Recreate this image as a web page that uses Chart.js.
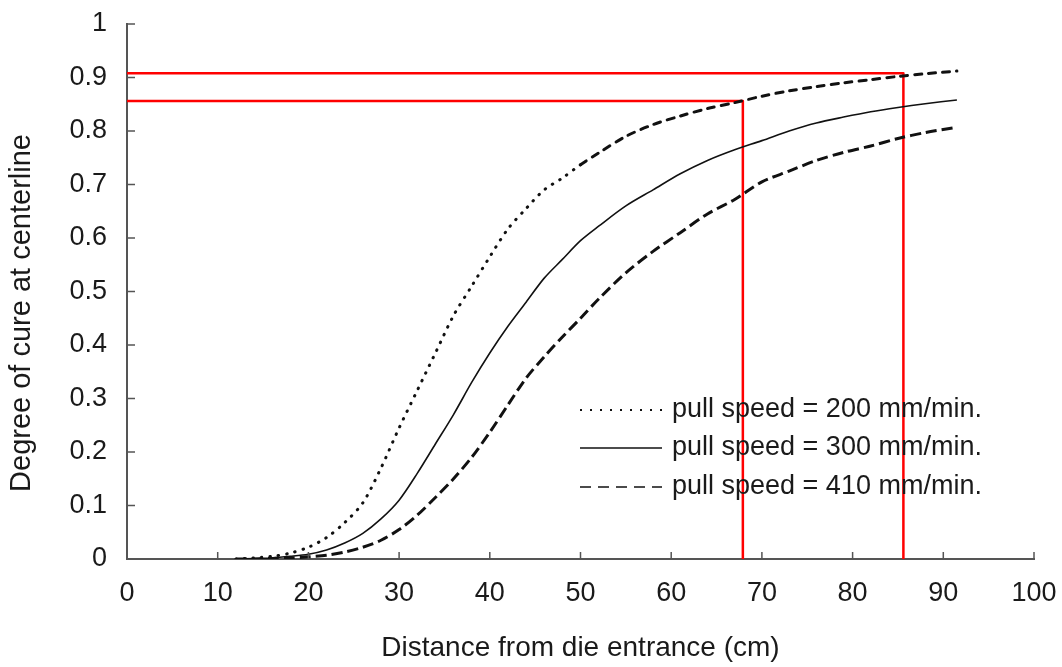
<!DOCTYPE html>
<html>
<head>
<meta charset="utf-8">
<script src="https://cdn.jsdelivr.net/npm/chart.js@4"></script>
<style>
  html, body { margin: 0; padding: 0; background: #fff; }
  #wrap { width: 1062px; height: 667px; }
</style>
</head>
<body>
<div id="wrap"><canvas id="myChart" width="1062" height="667"></canvas></div>
<script>
// distance from die entrance (cm)
const distance = [12, 14, 16, 18, 20, 22, 24, 26, 28, 30, 32, 34, 36, 38, 40, 42, 44, 46, 48, 50,
  52, 55, 58, 61, 64, 67, 70, 73, 76, 79, 82, 85, 88, 91.5]

// degree of cure at centerline
const cure200 = [0, 0.002, 0.005, 0.011, 0.022, 0.04, 0.068, 0.105, 0.17, 0.245, 0.315, 0.385, 0.455, 0.51, 0.565, 0.617, 0.655, 0.69, 0.712, 0.737,
  0.759, 0.79, 0.812, 0.828, 0.842, 0.853, 0.865, 0.875, 0.883, 0.89, 0.896, 0.902, 0.907, 0.912]
const cure300 = [0, 0.001, 0.002, 0.005, 0.009, 0.017, 0.03, 0.048, 0.075, 0.11, 0.16, 0.215, 0.27, 0.33, 0.385, 0.435, 0.48, 0.525, 0.56, 0.595,
  0.622, 0.66, 0.69, 0.72, 0.745, 0.765, 0.782, 0.8, 0.815, 0.826, 0.836, 0.844, 0.851, 0.858]
const cure410 = [0, 0, 0.001, 0.002, 0.004, 0.007, 0.013, 0.022, 0.035, 0.055, 0.082, 0.115, 0.15, 0.19, 0.237, 0.288, 0.338, 0.378, 0.415, 0.45,
  0.486, 0.535, 0.575, 0.61, 0.645, 0.672, 0.705, 0.725, 0.745, 0.76, 0.772, 0.786, 0.797, 0.807]

const seriesLabels = ['pull speed = 200 mm/min.', 'pull speed = 300 mm/min.', 'pull speed = 410 mm/min.']

// red reading lines
const markX = [67.9, 85.6]
const markY = [0.856, 0.908]

const xTicks = [0, 10, 20, 30, 40, 50, 60, 70, 80, 90, 100]
const yTicks = [0, 0.1, 0.2, 0.3, 0.4, 0.5, 0.6, 0.7, 0.8, 0.9, 1]
const yTickLabels = ['0', '0.1', '0.2', '0.3', '0.4', '0.5', '0.6', '0.7', '0.8', '0.9', '1']

const toPoints = (ys) => distance.map((x, i) => ({ x: x, y: ys[i] }))
const markLine = (i) => [{ x: 0, y: markY[i] }, { x: markX[i], y: markY[i] }, { x: markX[i], y: 0 }]

const font = '"Liberation Sans", Arial, sans-serif'
const ink = '#1a1a1a'

// ticks inside the axes, y title and legend drawn by hand
const extras = {
  id: 'extras',
  afterDraw(chart) {
    const c = chart.ctx
    const xs = chart.scales.x
    const ys = chart.scales.y
    const a = chart.chartArea
    c.save()
    c.strokeStyle = '#555'
    c.lineWidth = 1.5
    c.beginPath()
    xTicks.forEach(v => {
      const px = xs.getPixelForValue(v)
      c.moveTo(px, a.bottom)
      c.lineTo(px, a.bottom - 7)
    })
    yTicks.forEach(v => {
      const py = ys.getPixelForValue(v)
      c.moveTo(a.left, py)
      c.lineTo(a.left + 8, py)
    })
    c.stroke()

    // y title
    c.save()
    c.translate(22, 313)
    c.rotate(-Math.PI / 2)
    c.fillStyle = ink
    c.font = '29px ' + font
    c.textAlign = 'center'
    c.textBaseline = 'middle'
    c.fillText('Degree of cure at centerline', 0, 0)
    c.restore()

    // legend
    const rows = [410, 448, 487]
    chart.data.datasets.slice(0, 3).forEach((ds, i) => {
      c.strokeStyle = ds.borderColor
      c.lineWidth = ds.legendWidth
      c.lineCap = ds.legendCap
      c.setLineDash(ds.legendDash)
      c.beginPath()
      c.moveTo(580, rows[i])
      c.lineTo(662, rows[i])
      c.stroke()
      c.setLineDash([])
      c.fillStyle = ink
      c.font = '27px ' + font
      c.textBaseline = 'middle'
      c.fillText(ds.label, 672, rows[i])
    })
    c.restore()
  }
}

const config = {
  type: 'line',
  data: {
    datasets: [
      {
        label: seriesLabels[0],
        data: toPoints(cure200),
        borderColor: '#111',
        borderWidth: 3,
        borderCapStyle: 'round',
        segment: {
          borderDash: ctx => ctx.p0.parsed.x < 50 ? [0.5, 8] : [7, 7]
        },
        legendWidth: 2, legendDash: [2, 8], legendCap: 'butt'
      },
      {
        label: seriesLabels[1],
        data: toPoints(cure300),
        borderColor: '#111',
        borderWidth: 1.6,
        legendWidth: 1.6, legendDash: [], legendCap: 'butt'
      },
      {
        label: seriesLabels[2],
        data: toPoints(cure410),
        borderColor: '#111',
        borderWidth: 3,
        borderDash: [11, 5],
        legendWidth: 1.6, legendDash: [11, 7], legendCap: 'butt'
      },
      {
        data: markLine(0),
        borderColor: '#ff0000',
        borderWidth: 2.5,
        tension: 0
      },
      {
        data: markLine(1),
        borderColor: '#ff0000',
        borderWidth: 2.5,
        tension: 0
      }
    ]
  },
  options: {
    responsive: false,
    animation: false,
    layout: { padding: { top: 24, right: 28, left: 0, bottom: 0 } },
    elements: {
      point: { radius: 0 },
      line: { tension: 0.3, borderJoinStyle: 'round' }
    },
    plugins: {
      legend: { display: false },
      tooltip: { enabled: false }
    },
    scales: {
      x: {
        type: 'linear',
        min: 0,
        max: 100,
        afterFit: s => { s.height = 108; s.paddingLeft = 0; s.paddingRight = 0 },
        border: { color: '#555', width: 2 },
        grid: { display: false, drawTicks: false },
        ticks: {
          stepSize: 10,
          padding: 18,
          color: ink,
          font: { family: font, size: 27 }
        },
        title: {
          display: true,
          text: 'Distance from die entrance (cm)',
          color: ink,
          font: { family: font, size: 28 },
          padding: { top: 0, bottom: 2 }
        }
      },
      y: {
        min: 0,
        max: 1,
        afterFit: s => { s.width = 127; s.paddingTop = 0; s.paddingBottom = 0 },
        border: { color: '#555', width: 2 },
        grid: { display: false, drawTicks: false },
        ticks: {
          stepSize: 0.1,
          padding: 20,
          color: ink,
          font: { family: font, size: 27 },
          callback: (v, i) => yTickLabels[i]
        }
      }
    }
  },
  plugins: [extras]
}

const myChart = new Chart(document.getElementById('myChart'), config)
</script>
</body>
</html>
